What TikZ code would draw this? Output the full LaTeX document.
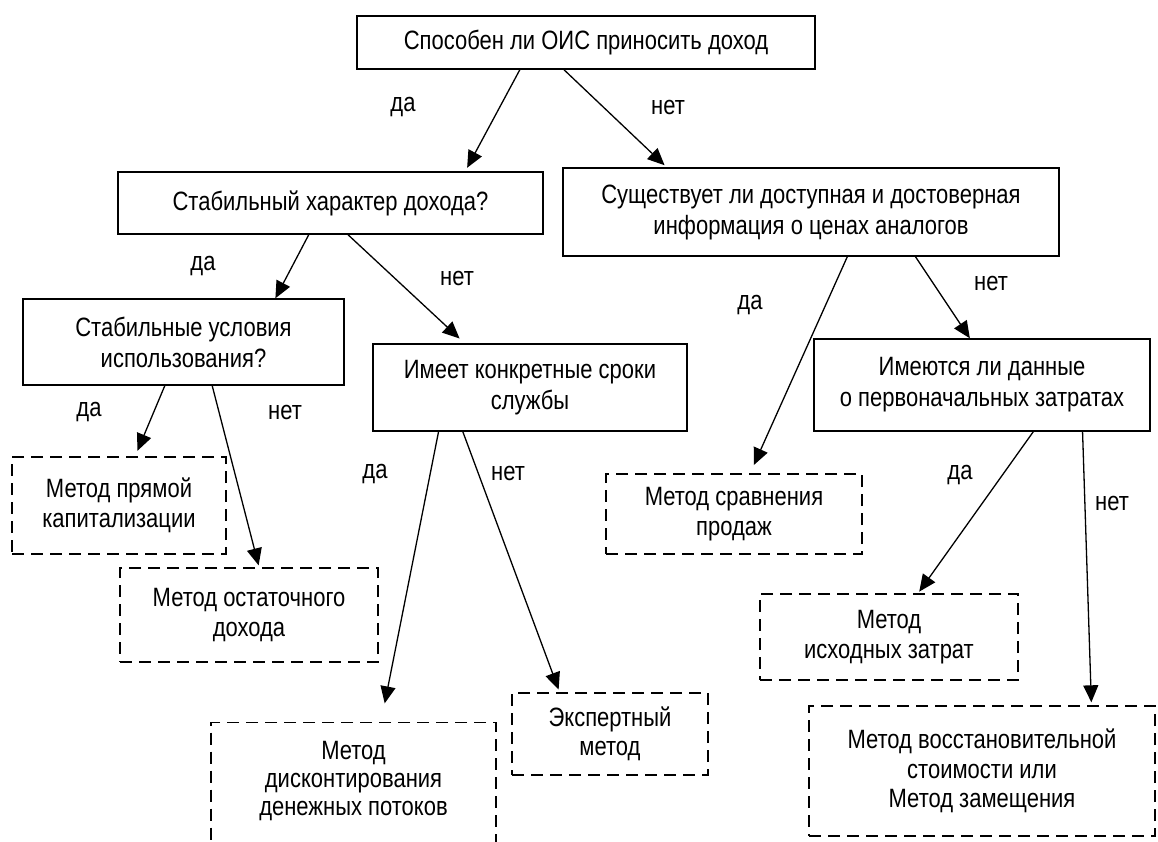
\documentclass[tikz,border=0pt]{standalone}
\usepackage{fontspec}
\setmainfont[FakeStretch=0.83]{Liberation Sans}
\usetikzlibrary{arrows.meta,calc}
\begin{document}
\begin{tikzpicture}[x=1pt,y=-1pt,
  qbox/.style={draw, line width=1.4pt, align=center, inner sep=0pt,
               font=\fontsize{26.5}{31}\selectfont},
  mbox/.style={qbox, dash pattern=on 12pt off 7pt, font=\fontsize{26.5}{29.5}\selectfont},
  txt/.style={align=center, inner sep=0pt, font=\fontsize{26.5}{28}\selectfont},
  lbl/.style={inner sep=0pt, font=\fontsize{26.5}{30}\selectfont},
  arr/.style={line width=1.3pt, -{Triangle[length=17pt,width=15pt]}}]
\useasboundingbox (0,0) rectangle (1158,841);
\clip (0,0) rectangle (1158,841);

% decision boxes
\node[qbox, minimum width=458pt, minimum height=53pt] (top) at (586,42.5)
  {Способен ли ОИС приносить доход};
\node[qbox, minimum width=425pt, minimum height=62pt] (b2) at (330.5,203)
  {Стабильный характер дохода?};
\node[qbox, minimum width=496pt, minimum height=88pt] (b3) at (811,212)
  {Существует ли доступная и достоверная\\информация о ценах аналогов};
\node[qbox, minimum width=321pt, minimum height=86pt] (b4) at (183.5,342)
  {Стабильные условия\\использования?};
\node[qbox, minimum width=314pt, minimum height=87pt] (b5) at (530,387.5)
  {Имеет конкретные сроки\\службы};
\node[qbox, minimum width=336pt, minimum height=92pt] (b6) at (982,385)
  {Имеются ли данные\\о первоначальных затратах};

% valuation methods
\node[mbox, minimum width=214pt, minimum height=97pt] (d1) at (119,505.5)
  {Метод прямой\\капитализации};
\node[mbox, minimum width=258pt, minimum height=94pt] (d2) at (249,615)
  {Метод остаточного\\дохода};
\node[mbox, minimum width=285pt, minimum height=180pt, anchor=north] (d3) at (353.5,722) {};
\node[txt] (d3t) at (353.5,781) {Метод\\дисконтирования\\денежных потоков};
\node[mbox, minimum width=196pt, minimum height=82pt] (d4) at (610,734)
  {Экспертный\\метод};
\node[mbox, minimum width=256pt, minimum height=80pt] (d5) at (734,514)
  {Метод сравнения\\продаж};
\node[mbox, minimum width=258pt, minimum height=86pt] (d6) at (889,637)
  {Метод\\исходных затрат};
\node[mbox, minimum width=346pt, minimum height=130pt] (d7) at (982,771)
  {Метод восстановительной\\стоимости или\\Метод замещения};

% branches
\draw[arr, shorten >=4pt] ($(top.south west)!0.356!(top.south east)$) -- ($(b2.north west)!0.816!(b2.north east)$);
\draw[arr, shorten >=3pt] ($(top.south west)!0.452!(top.south east)$) -- ($(b3.north west)!0.21!(b3.north east)$);
\draw[arr] ($(b2.south west)!0.449!(b2.south east)$) -- ($(b4.north west)!0.785!(b4.north east)$);
\draw[arr, shorten >=7pt] ($(b2.south west)!0.541!(b2.south east)$) -- ($(b5.north west)!0.293!(b5.north east)$);
\draw[arr, shorten >=9pt] ($(b3.south west)!0.573!(b3.south east)$) -- ($(d5.north west)!0.5625!(d5.north east)$);
\draw[arr] ($(b3.south west)!0.71!(b3.south east)$) -- ($(b6.north west)!0.464!(b6.north east)$);
\draw[arr, shorten >=6pt] ($(b4.south west)!0.442!(b4.south east)$) -- ($(d1.north west)!0.575!(d1.north east)$);
\draw[arr, shorten >=2pt] ($(b4.south west)!0.589!(b4.south east)$) -- ($(d2.north west)!0.539!(d2.north east)$);
\draw[arr, shorten >=19pt] ($(b5.south west)!0.21!(b5.south east)$) -- ($(d3.north west)!0.596!(d3.north east)$);
\draw[arr, shorten >=3pt] ($(b5.south west)!0.287!(b5.south east)$) -- ($(d4.north west)!0.245!(d4.north east)$);
\draw[arr, shorten >=2pt] ($(b6.south west)!0.652!(b6.south east)$) -- ($(d6.north west)!0.612!(d6.north east)$);
\draw[arr, shorten >=3pt] ($(b6.south west)!0.798!(b6.south east)$) -- ($(d7.north west)!0.815!(d7.north east)$);

% branch labels
\node[lbl] (y1) at (403,107) {да};
\node[lbl] (n1) at (668,107) {нет};
\node[lbl] (y2) at (203,266) {да};
\node[lbl] (n2) at (457,278) {нет};
\node[lbl] (y3) at (750,305) {да};
\node[lbl] (n3) at (991,283) {нет};
\node[lbl] (y4) at (89,412) {да};
\node[lbl] (n4) at (285,412) {нет};
\node[lbl] (y5) at (375,474) {да};
\node[lbl] (n5) at (508,473) {нет};
\node[lbl] (y6) at (960,475) {да};
\node[lbl] (n6) at (1112,503) {нет};
\end{tikzpicture}
\end{document}
